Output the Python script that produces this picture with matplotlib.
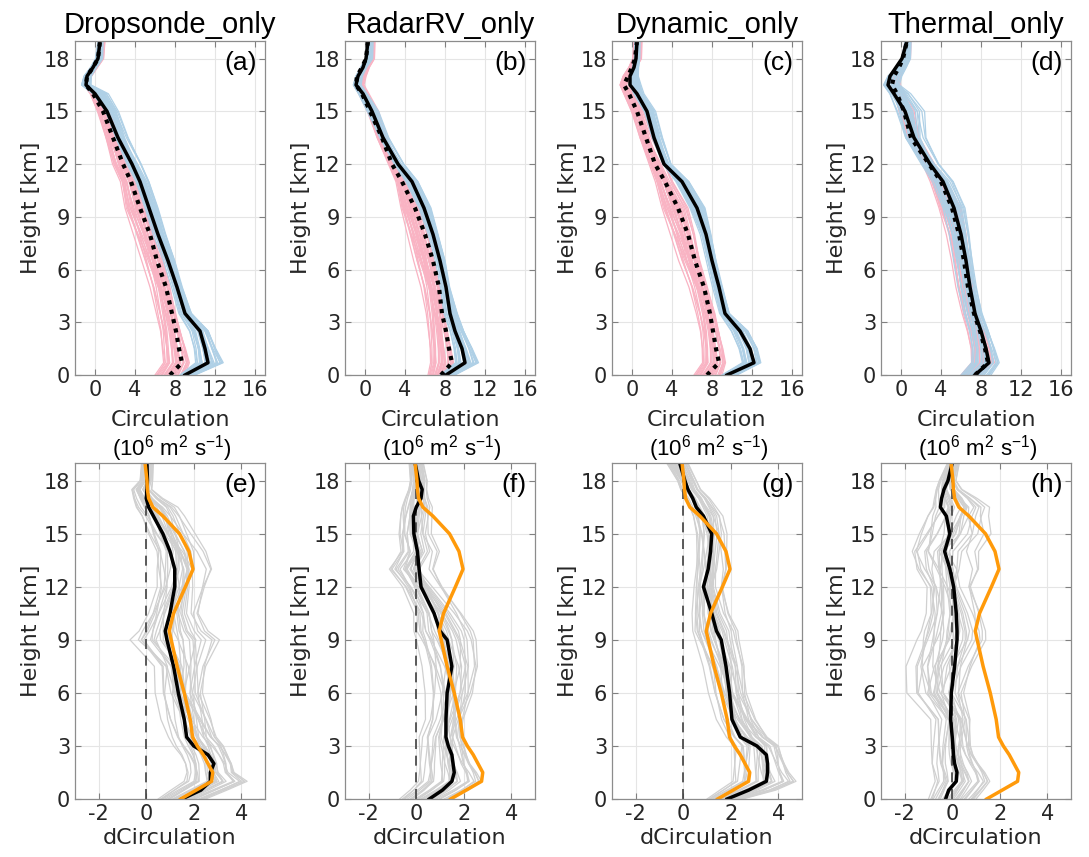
import matplotlib
matplotlib.use('Agg')
import matplotlib.pyplot as plt
import numpy as np

# heights (km) where the profiles were read
z_top = [0, 0.7, 1.5, 2.5, 3.5, 5, 6.5, 8, 9.5, 11, 12, 13.5, 15, 16, 16.5, 17, 17.5, 18, 19]
z_bot = [0, 0.5, 1, 1.5, 2, 2.5, 3, 3.5, 4.5, 6, 7.5, 9, 9.5, 10.5, 12, 13, 14, 15, 16, 16.5, 17, 17.5, 18, 19]

titles = ['Dropsonde_only', 'RadarRV_only', 'Dynamic_only', 'Thermal_only']
top_tags = ['(a)', '(b)', '(c)', '(d)']
bot_tags = ['(e)', '(f)', '(g)', '(h)']

# top row: circulation (10^6 m2 s-1)
# a
a_blue_mean = [9.0, 11.3, 11.0, 10.5, 9.0, 8.2, 7.3, 6.3, 5.4, 4.5, 3.7, 2.3, 1.2, 0.0, -0.9, -0.8, -0.2, 0.3, 0.5]
a_pink_mean = [7.5, 8.7, 8.4, 8.1, 7.7, 7.1, 6.2, 5.5, 4.5, 3.6, 2.8, 1.8, 0.8, -0.2, -0.9, -0.8, -0.2, 0.3, 0.5]
a_pink_lo = [6.0, 6.8, 6.6, 6.4, 6.0, 5.4, 4.6, 3.8, 3.0, 2.4, 1.5, 0.8, 0.0, -0.6, -1.2, -1.0, -0.4, 0.1, 0.3]
a_pink_hi = [9.0, 9.6, 9.4, 9.0, 8.6, 8.0, 7.3, 6.5, 5.6, 4.6, 3.9, 2.6, 1.6, 0.3, -0.5, -0.3, 0.3, 0.9, 1.0]
a_blue_lo = [8.5, 10.0, 9.8, 9.3, 8.3, 7.6, 6.8, 5.8, 5.0, 4.0, 3.0, 1.8, 0.8, -0.5, -1.5, -1.2, -0.5, 0.0, 0.3]
a_blue_hi = [10.0, 13.0, 12.4, 11.8, 10.0, 9.0, 8.2, 7.2, 6.3, 5.5, 4.8, 3.5, 2.5, 1.5, -0.3, -0.3, 0.2, 0.8, 0.8]
# b
b_blue_mean = [8.1, 10.0, 9.7, 9.0, 8.5, 8.1, 7.5, 6.8, 5.9, 4.7, 3.3, 1.8, 0.7, -0.2, -0.9, -0.7, -0.2, 0.1, 0.3]
b_pink_mean = [7.6, 8.7, 8.4, 8.1, 7.7, 7.4, 6.8, 6.0, 5.0, 3.7, 2.7, 1.7, 0.5, -0.3, -0.9, -0.8, -0.3, 0.1, 0.3]
b_pink_lo = [6.3, 6.5, 6.4, 6.2, 6.0, 5.5, 4.8, 4.2, 3.6, 3.0, 2.2, 1.0, 0.0, -0.8, -1.3, -1.0, -0.5, 0.0, 0.3]
b_pink_hi = [8.5, 9.0, 8.9, 8.7, 8.4, 8.0, 7.3, 6.5, 5.6, 4.4, 3.5, 2.3, 1.5, 0.5, 0.0, 0.2, 0.5, 1.0, 1.0]
b_blue_lo = [7.5, 9.0, 8.8, 8.4, 7.8, 7.5, 7.0, 6.3, 5.4, 4.0, 2.8, 1.3, 0.0, -0.8, -1.3, -1.0, -0.5, 0.0, 0.2]
b_blue_hi = [9.0, 11.5, 11.0, 10.2, 9.6, 8.7, 8.2, 7.4, 6.6, 5.4, 4.0, 2.5, 1.5, 0.3, -0.3, -0.2, 0.2, 0.8, 0.8]
# c
c_blue_mean = [9.5, 12.2, 11.8, 10.8, 9.3, 8.7, 8.0, 7.4, 6.5, 5.0, 3.2, 2.2, 1.5, 0.5, -0.2, -0.2, 0.2, 0.4, 0.5]
c_pink_mean = [7.5, 8.7, 8.4, 8.1, 7.8, 7.2, 6.3, 5.6, 4.6, 3.3, 2.3, 1.4, 0.5, -0.3, -0.8, -0.4, 0.0, 0.3, 0.5]
c_pink_lo = [6.2, 7.0, 6.9, 6.7, 6.3, 5.6, 4.6, 3.8, 3.0, 2.2, 1.5, 0.5, -0.3, -1.0, -1.3, -1.0, -0.4, 0.0, 0.2]
c_pink_hi = [9.0, 9.5, 9.4, 9.1, 8.8, 8.0, 7.2, 6.5, 5.6, 4.2, 3.5, 2.3, 1.3, 0.3, -0.5, 0.0, 0.5, 1.0, 1.0]
c_blue_lo = [9.0, 11.0, 10.6, 9.8, 8.7, 8.0, 7.4, 6.8, 5.8, 4.3, 3.0, 1.8, 1.0, 0.0, -0.3, -0.3, 0.0, 0.2, 0.3]
c_blue_hi = [10.5, 13.0, 12.8, 12.0, 10.0, 9.3, 8.6, 8.0, 7.3, 5.8, 4.0, 3.2, 2.5, 1.3, 1.0, 0.7, 0.7, 0.8, 0.8]
# d
d_blue_mean = [7.4, 8.8, 8.5, 8.0, 7.4, 6.9, 6.5, 6.0, 5.3, 4.2, 2.9, 1.3, 0.4, -0.7, -1.3, -1.1, -0.5, 0.1, 0.6]
d_pink_mean = [7.4, 8.7, 8.4, 7.9, 7.3, 6.7, 6.3, 5.8, 5.1, 4.0, 2.8, 1.0, 0.3, -0.4, -0.9, -0.7, -0.2, 0.2, 0.6]
d_pink_lo = [6.0, 7.0, 6.9, 6.5, 6.0, 5.4, 5.0, 4.5, 3.8, 2.8, 2.0, 0.5, -0.5, -0.8, -1.0, -0.8, -0.3, 0.0, 0.4]
d_pink_hi = [8.0, 9.5, 9.2, 8.8, 8.2, 7.6, 7.2, 6.7, 6.0, 4.7, 3.5, 2.0, 1.5, 0.5, 0.0, 0.0, 0.4, 1.0, 1.0]
d_blue_lo = [6.0, 7.0, 7.0, 6.7, 6.2, 5.6, 5.2, 4.8, 4.2, 3.0, 1.8, 0.0, -1.0, -1.5, -2.0, -1.5, -0.5, 0.0, 0.4]
d_blue_hi = [9.0, 10.0, 9.7, 9.2, 8.6, 8.0, 7.5, 7.0, 6.4, 5.4, 4.0, 2.8, 2.7, 1.2, 0.0, 0.2, 0.6, 1.0, 1.0]

# bottom row: dCirculation
orange = [1.45, 2.1, 2.75, 2.8, 2.6, 2.4, 2.15, 1.95, 1.85, 1.6, 1.3, 1.05, 0.97, 1.15, 1.65, 1.97, 1.8, 1.4, 0.7, 0.28, 0.1, 0.05, 0.03, -0.05]
e_mean = [1.5, 2.3, 2.7, 2.7, 2.85, 2.6, 2.0, 1.7, 1.6, 1.35, 1.15, 0.87, 0.8, 1.0, 1.2, 1.2, 1.0, 0.7, 0.3, 0.1, 0.0, 0.03, 0.05, 0.03]
f_mean = [0.55, 1.1, 1.5, 1.6, 1.55, 1.5, 1.35, 1.25, 1.25, 1.3, 1.5, 1.3, 1.0, 0.75, 0.2, 0.12, 0.05, -0.1, -0.12, 0.0, 0.2, 0.25, 0.1, -0.05]
g_mean = [1.85, 2.75, 3.5, 3.55, 3.55, 3.5, 3.1, 2.4, 2.05, 1.95, 1.8, 1.6, 1.4, 1.2, 0.85, 1.05, 1.15, 1.2, 0.85, 0.55, 0.4, 0.2, 0.07, -0.15]
h_mean = [-0.28, -0.15, 0.17, 0.2, 0.1, 0.05, 0.03, 0.0, -0.07, -0.04, 0.1, 0.2, 0.2, 0.17, 0.06, -0.1, -0.32, -0.1, -0.25, -0.5, -0.45, -0.35, -0.18, 0.0]
e_lo = [0.5, 1.0, 1.5, 1.6, 1.5, 1.3, 1.0, 0.8, 0.5, 0.3, 0.3, -0.7, -0.3, 0.0, 0.2, 0.0, 0.0, -0.3, -0.5, -0.7, -0.7, -0.7, -0.3, -0.2]
e_hi = [2.5, 3.5, 4.5, 4.0, 4.0, 3.9, 3.8, 3.5, 3.3, 2.8, 2.8, 3.2, 2.6, 2.3, 2.7, 3.1, 2.8, 2.3, 1.8, 1.5, 0.8, 0.3, 0.3, 0.3]
f_lo = [-0.7, -0.3, 0.0, 0.0, 0.0, 0.0, 0.0, 0.0, 0.3, 0.3, 0.2, 0.0, -0.1, -0.2, -0.8, -1.5, -1.0, -1.0, -0.9, -0.8, -0.6, -0.4, -0.3, -0.3]
f_hi = [1.5, 2.3, 3.0, 2.9, 2.7, 2.6, 2.5, 2.4, 2.4, 2.8, 2.9, 2.6, 2.4, 2.0, 1.3, 1.0, 1.2, 0.8, 0.8, 0.8, 0.6, 0.5, 0.5, 0.3]
g_lo = [1.0, 1.5, 2.0, 2.0, 2.0, 2.0, 2.0, 1.7, 1.3, 1.0, 0.8, 0.5, 0.4, 0.3, 0.3, 0.3, 0.3, 0.3, 0.2, 0.1, 0.0, -0.2, -0.3, -0.7]
g_hi = [2.5, 4.0, 5.0, 4.8, 4.7, 4.6, 4.5, 4.0, 3.5, 3.0, 2.8, 2.4, 2.3, 2.0, 1.8, 2.0, 2.0, 2.0, 1.8, 1.5, 1.2, 0.8, 0.6, 0.2]
h_lo = [-1.0, -0.9, -0.8, -0.9, -1.0, -1.0, -1.0, -1.0, -1.0, -2.0, -2.0, -1.5, -1.3, -1.2, -1.3, -2.0, -2.3, -2.0, -1.5, -1.2, -1.0, -0.8, -0.6, -0.2]
h_hi = [1.0, 1.4, 1.8, 1.7, 1.5, 1.3, 1.2, 1.2, 1.2, 1.0, 1.2, 1.5, 1.4, 1.3, 1.0, 1.5, 1.5, 2.0, 1.8, 1.8, 1.2, 0.5, 0.2, 0.3]

# position of each ensemble member inside the spread (bottom / middle / top)
w_low = [0.0, 0.08, 0.15, 0.22, 0.3, 0.36, 0.43, 0.5, 0.57, 0.63, 0.7, 0.78, 0.85, 0.92, 1.0,
         0.4, 0.6, 0.2, 0.1, 0.9, 0.33, 0.67, 0.47, 0.53, 0.25, 0.75, 0.05, 0.95]
w_mid = [0.3, 0.0, 0.55, 0.15, 0.8, 0.45, 1.0, 0.25, 0.65, 0.1, 0.9, 0.4, 0.7, 0.5, 0.2,
         0.95, 0.35, 0.6, 0.75, 0.05, 0.85, 0.2, 0.58, 0.42, 0.12, 0.68, 0.48, 0.3]
w_high = [0.6, 0.4, 0.1, 0.9, 0.2, 1.0, 0.5, 0.7, 0.0, 0.35, 0.15, 0.85, 0.3, 0.65, 0.45,
          0.75, 0.05, 0.55, 0.25, 0.8, 0.95, 0.12, 0.38, 0.62, 0.5, 0.22, 0.88, 0.7]

top_data = [
    (a_pink_lo, a_pink_hi, a_blue_lo, a_blue_hi, a_blue_mean, a_pink_mean),
    (b_pink_lo, b_pink_hi, b_blue_lo, b_blue_hi, b_blue_mean, b_pink_mean),
    (c_pink_lo, c_pink_hi, c_blue_lo, c_blue_hi, c_blue_mean, c_pink_mean),
    (d_pink_lo, d_pink_hi, d_blue_lo, d_blue_hi, d_blue_mean, d_pink_mean),
]
bot_data = [(e_lo, e_hi, e_mean), (f_lo, f_hi, f_mean), (g_lo, g_hi, g_mean), (h_lo, h_hi, h_mean)]

pink = '#F9B3C3'
blue = '#AFD0E6'
gray = '#D0D0D0'
org = '#FF9A0A'
txt = '#262626'


def members(ax, z, lo, hi, color):
    z = np.array(z, dtype=float)
    lo = np.array(lo)
    hi = np.array(hi)
    for wa, wb, wc in zip(w_low, w_mid, w_high):
        w = np.interp(z, [0, 9.5, 19], [wa, wb, wc])
        ax.plot(lo + w * (hi - lo), z, color=color, lw=0.9)


def style(ax):
    ax.set_ylim(0, 19)
    ax.set_yticks(range(0, 19, 3))
    ax.grid(True, color='#E5E5E5', lw=0.8)
    ax.set_axisbelow(True)
    ax.tick_params(direction='in', top=True, right=True, length=4, width=0.8,
                   labelsize=15, colors='#808080', labelcolor=txt)
    for s in ax.spines.values():
        s.set_color('#8C8C8C')
        s.set_linewidth(0.9)
    ax.set_ylabel('Height [km]', fontsize=16, color=txt, labelpad=2)


plt.rcParams['font.family'] = ['DejaVu Sans']
plt.rcParams['axes.unicode_minus'] = False
plt.rcParams['mathtext.fontset'] = 'custom'
plt.rcParams['mathtext.rm'] = 'Liberation Sans'

fig = plt.figure(figsize=(10.89, 8.57), dpi=100)
lefts = [75, 345, 612, 881]

for i in range(4):
    ax = fig.add_axes([lefts[i] / 1089, 1 - 375 / 857, 190 / 1089, 334 / 857])
    plo, phi, blo, bhi, bmean, pmean = top_data[i]
    members(ax, z_top, plo, phi, pink)
    members(ax, z_top, blo, bhi, blue)
    ax.plot(bmean, z_top, color='k', lw=2.5)
    ax.plot(pmean, z_top, color='k', lw=3, linestyle=(0, (1, 1.3)))
    ax.set_xlim(-2, 17)
    ax.set_xticks(range(0, 17, 4))
    style(ax)
    ax.set_xlabel('Circulation', fontsize=16, color=txt, labelpad=7)
    fig.text((lefts[i] + 97) / 1089, 1 - 449 / 857, '(10$^{6}$ m$^{2}$ s$^{-1}$)',
             ha='center', va='center', fontsize=16, family='Liberation Sans',
             color='k', zorder=10)
    ax.set_title(titles[i], fontsize=21, family='Liberation Sans', pad=6)
    ax.text(0.955, 0.935, top_tags[i], transform=ax.transAxes, ha='right', va='center',
            fontsize=19, family='Liberation Sans')

for i in range(4):
    ax = fig.add_axes([lefts[i] / 1089, 1 - 799 / 857, 190 / 1089, 336 / 857])
    lo, hi, mean = bot_data[i]
    members(ax, z_bot, lo, hi, gray)
    ax.axvline(0, color='#404040', lw=1.2, linestyle=(0, (6, 4)))
    ax.plot(mean, z_bot, color='k', lw=2.5)
    ax.plot(orange, z_bot, color=org, lw=2.5)
    ax.set_xlim(-3, 5)
    ax.set_xticks(range(-2, 5, 2))
    style(ax)
    ax.set_xlabel('dCirculation', fontsize=16, color=txt, labelpad=3)
    ax.text(0.955, 0.935, bot_tags[i], transform=ax.transAxes, ha='right', va='center',
            fontsize=19, family='Liberation Sans')

fig.savefig('out.png', dpi=100)
